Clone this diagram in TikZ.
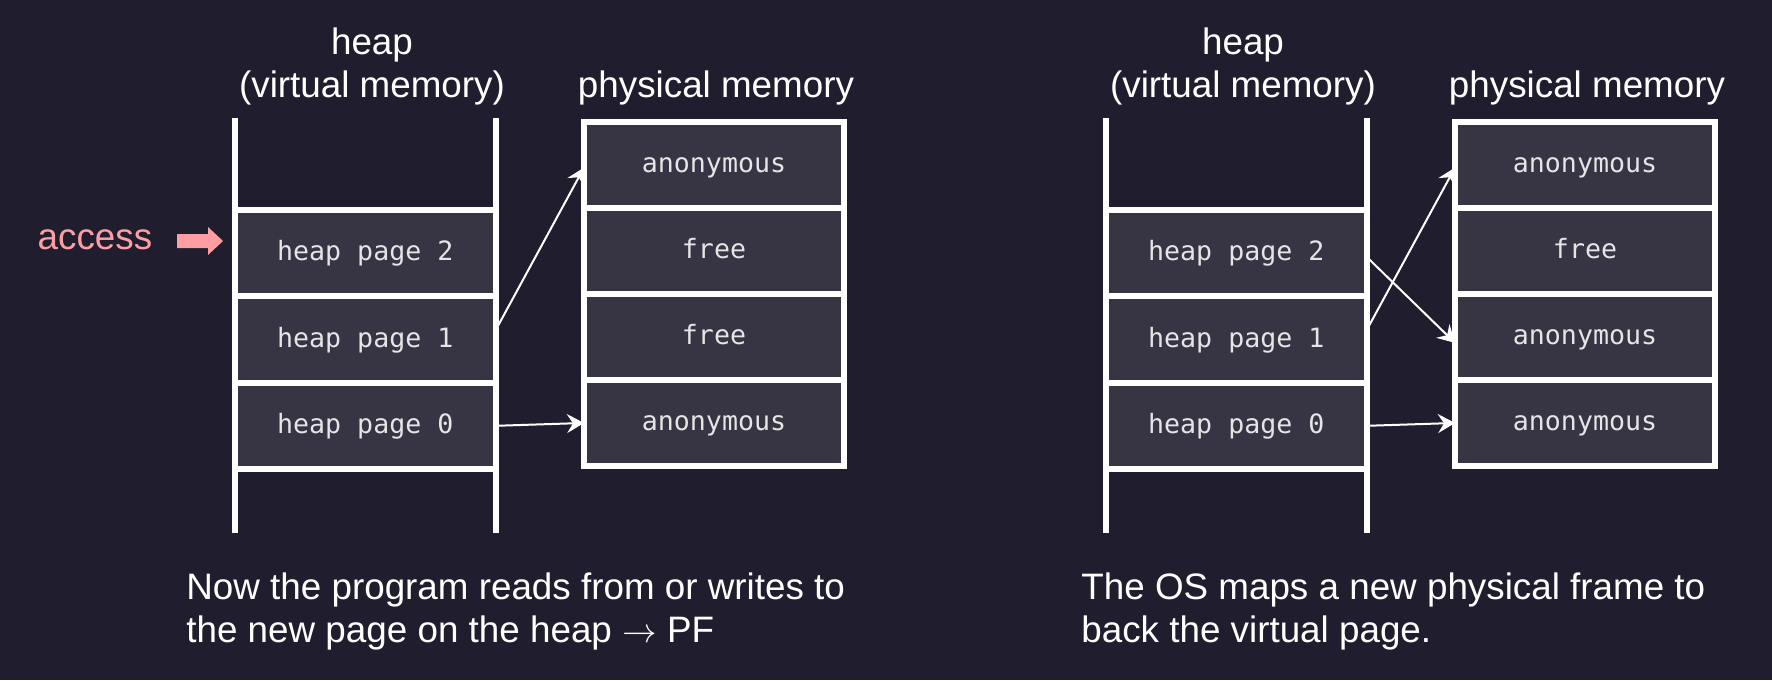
\documentclass[tikz,border=0pt]{standalone}
\usepackage{fontspec}
\setmainfont{Liberation Sans}
\newfontfamily\codefont{DejaVu Sans Mono}
\usetikzlibrary{arrows.meta,positioning}
\definecolor{slidebg}{HTML}{201E2E}
\definecolor{cellfill}{HTML}{373544}
\definecolor{accesspink}{HTML}{FF9EA2}
\tikzset{%
	>={Stealth[length=8.5pt,width=9.5pt,inset=3pt]},
	% Specifications for style of nodes:
	cell/.style = {rectangle, draw=white, line width=3pt, fill=cellfill,
		minimum width=130.75pt, minimum height=43.15pt, inner sep=0pt, outer sep=0pt,
		text height=0.95em, text depth=0.18em,
		text=white!90!black, font=\codefont\fontsize{13.3}{15}\selectfont},
	physcell/.style = {cell, minimum width=130pt, minimum height=43.06pt},
	heading/.style = {text=white, align=center, inner sep=0pt, anchor=south,
		font=\fontsize{18.4}{21.5}\selectfont},
	caption/.style = {text=white, align=left, inner sep=0pt, anchor=north west,
		font=\fontsize{18.4}{21.5}\selectfont},
	rail/.style = {draw=white, line width=3pt},
	map/.style = {->, draw=white, line width=1pt}
}

\begin{document}
\begin{tikzpicture}[x=0.5pt, y=-0.5pt, node distance=0pt]
	% slide background (fixes the size)
	\fill[slidebg] (0,0) rectangle (1772,680);
	\useasboundingbox (0,0) rectangle (1772,680);

	% Left: the program touches the new page
	\node (vtitleL) [heading] at (372,106) {heap\\(virtual memory)};
	\node (ptitleL) [heading] at (716,106) {physical memory};
	\node (heap2L)  [cell] at (365.25,253.2)      {heap page 2};
	\node (heap1L)  [cell, below=of heap2L]       {heap page 1};
	\node (heap0L)  [cell, below=of heap1L]       {heap page 0};
	\draw[rail] (234.5,118) -- (234.5,533);
	\draw[rail] (496,118) -- (496,533);
	\node (physAL)  [physcell] at (714,164.6)     {anonymous};
	\node (physBL)  [physcell, below=of physAL]   {free};
	\node (physCL)  [physcell, below=of physBL]   {free};
	\node (physDL)  [physcell, below=of physCL]   {anonymous};
	\node (access)  [text=accesspink, font=\fontsize{18.4}{21.5}\selectfont] at (95,240) {access};
	\fill[accesspink] (177,234) -- (208,234) -- (208,227) -- (223,241)
		-- (208,255) -- (208,248) -- (177,248) -- cycle;

	\draw[map] ([yshift=5pt]heap1L.east) -- ([yshift=-1.5pt]physAL.west);
	\draw[map] (heap0L.east) -- (physDL.west);

	\node (noteL) [caption] at (186,572) {Now the program reads from or writes to\\the new page on the heap $\rightarrow$ PF};

	% Right: the OS maps a frame
	\node (vtitleR) [heading] at (1243,106) {heap\\(virtual memory)};
	\node (ptitleR) [heading] at (1587,106) {physical memory};
	\node (heap2R)  [cell] at (1236.25,253.2)     {heap page 2};
	\node (heap1R)  [cell, below=of heap2R]       {heap page 1};
	\node (heap0R)  [cell, below=of heap1R]       {heap page 0};
	\draw[rail] (1105.5,118) -- (1105.5,533);
	\draw[rail] (1367,118) -- (1367,533);
	\node (physAR)  [physcell] at (1585,164.6)    {anonymous};
	\node (physBR)  [physcell, below=of physAR]   {free};
	\node (physCR)  [physcell, below=of physBR]   {anonymous};
	\node (physDR)  [physcell, below=of physCR]   {anonymous};

	\draw[map] ([yshift=-2pt]heap2R.east) -- ([yshift=-3pt]physCR.west);
	\draw[map] ([yshift=5pt]heap1R.east) -- ([yshift=-1.5pt]physAR.west);
	\draw[map] (heap0R.east) -- (physDR.west);

	\node (noteR) [caption] at (1081,572) {The OS maps a new physical frame to\\back the virtual page.};
\end{tikzpicture}
\end{document}
